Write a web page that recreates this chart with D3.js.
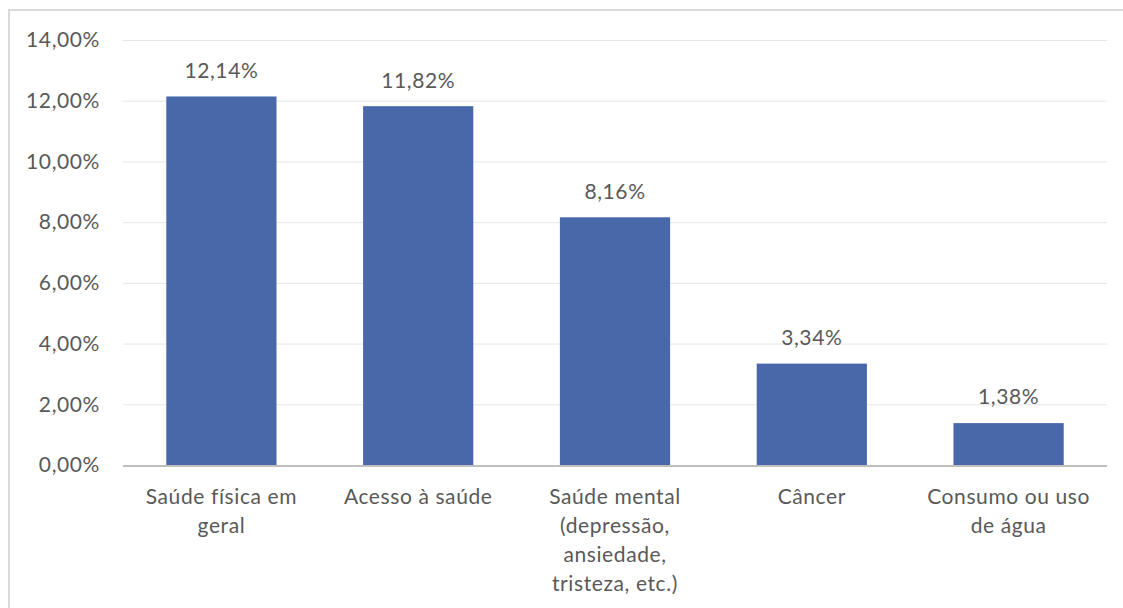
<!DOCTYPE html>
<html>
<head>
<meta charset="utf-8">
<script src="https://cdn.jsdelivr.net/npm/d3@7"></script>
<style>
  body { margin: 0; background: #fff; }
  text { font-family: Lato, "Open Sans", sans-serif; fill: #595959; font-size: 21px; letter-spacing: 0.6px; }
</style>
</head>
<body>
<script>
// data
var categories = [
    ['Saúde física em', 'geral'],
    ['Acesso à saúde'],
    ['Saúde mental', '(depressão,', 'ansiedade,', 'tristeza, etc.)'],
    ['Câncer'],
    ['Consumo ou uso', 'de água']
]
var values = [12.14, 11.82, 8.16, 3.34, 1.38]
var yTicks = [0, 2, 4, 6, 8, 10, 12, 14]

var W = 1123, H = 608
var plot = { left: 123, right: 1107, top: 40, bottom: 465 }

var svg = d3.select('body').append('svg')
    .attr('width', W)
    .attr('height', H)

// chart border (top + left visible)
svg.append('path')
    .attr('d', `M9,${H} V10 H${W}`)
    .attr('fill', 'none')
    .attr('stroke', '#d9d9d9')
    .attr('stroke-width', 2)

var x = d3.scaleBand()
    .domain(d3.range(values.length))
    .range([plot.left, plot.right])
    .paddingInner(0.44)
    .paddingOuter(0.22)

var y = d3.scaleLinear().domain([0, 14]).range([plot.bottom, plot.top])

var fmt = v => v.toFixed(2).replace('.', ',') + '%'

// gridlines
svg.append('g')
    .selectAll('line')
    .data(yTicks.filter(d => d > 0))
    .enter()
    .append('line')
    .attr('x1', plot.left)
    .attr('x2', plot.right)
    .attr('y1', d => y(d) + 0.5)
    .attr('y2', d => y(d) + 0.5)
    .attr('stroke', '#e6e6e6')
    .attr('stroke-width', 1)

// y labels
svg.append('g')
    .selectAll('text')
    .data(yTicks)
    .enter()
    .append('text')
    .attr('x', 100)
    .attr('y', d => y(d))
    .attr('dy', '0.35em')
    .attr('text-anchor', 'end')
    .text(d => fmt(d))

// bars
svg.append('g')
    .selectAll('rect')
    .data(values)
    .enter()
    .append('rect')
    .attr('x', (d, i) => x(i))
    .attr('width', x.bandwidth())
    .attr('y', d => y(d))
    .attr('height', d => y(0) - y(d))
    .attr('fill', '#4868aa')

// axis line
svg.append('line')
    .attr('x1', plot.left)
    .attr('x2', plot.right)
    .attr('y1', y(0) + 1)
    .attr('y2', y(0) + 1)
    .attr('stroke', '#bfbfbf')
    .attr('stroke-width', 2)

// value labels
svg.append('g')
    .selectAll('text')
    .data(values)
    .enter()
    .append('text')
    .attr('x', (d, i) => x(i) + x.bandwidth() / 2)
    .attr('y', d => y(d) - 26)
    .attr('dy', '0.35em')
    .attr('text-anchor', 'middle')
    .text(d => fmt(d))

// category labels
var cat = svg.append('g')
    .selectAll('text')
    .data(categories)
    .enter()
    .append('text')
    .attr('text-anchor', 'middle')
    .attr('transform', (d, i) => `translate(${x(i) + x.bandwidth() / 2}, 497)`)

cat.selectAll('tspan')
    .data(d => d)
    .enter()
    .append('tspan')
    .attr('x', 0)
    .attr('y', (d, i) => i * 29)
    .attr('dy', '0.35em')
    .text(d => d)
</script>
</body>
</html>
